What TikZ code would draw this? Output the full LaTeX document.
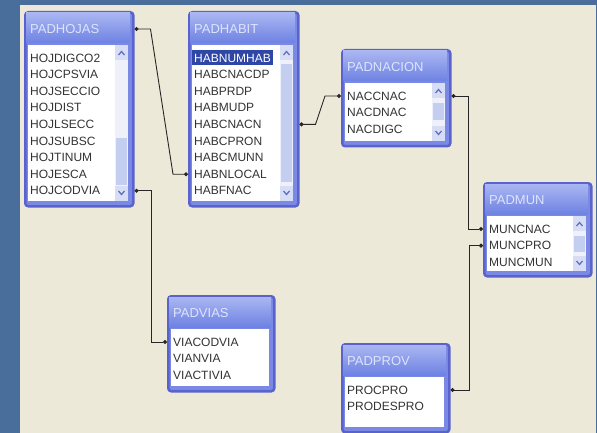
\documentclass[tikz,border=0pt]{standalone}
\usepackage{fontspec}
\setmainfont{Liberation Sans}
\usetikzlibrary{arrows.meta}
\definecolor{fondo}{HTML}{4A6E9C}
\definecolor{panel}{HTML}{ECE9D8}
\definecolor{marco}{HTML}{5A62CE}
\definecolor{marcofill}{HTML}{7A8AE4}
\definecolor{cabtop}{HTML}{AAB6F2}
\definecolor{cabbot}{HTML}{6E82E2}
\definecolor{titulo}{HTML}{DCE4FC}
\definecolor{pista}{HTML}{EEF0FA}
\definecolor{cursor}{HTML}{C4CEF0}
\definecolor{boton}{HTML}{D6DDF5}
\definecolor{flecha}{HTML}{5B6DC2}
\definecolor{selec}{HTML}{2E46A6}
\definecolor{linea}{HTML}{262626}

\begin{document}
\begin{tikzpicture}[x=1pt, y=-1pt, every node/.style={inner sep=0pt},
  tabla/.style={draw=marco, line width=2.5pt, fill=marcofill, rounded corners=3pt, anchor=north west},
  cab/.style={font=\fontsize{13}{15}\selectfont, text=titulo, anchor=west},
  fila/.style={font=\fontsize{12}{14}\selectfont, text=black!80, anchor=west, inner xsep=2pt, minimum height=15pt},
  fila habit-1/.style={fill=selec, text=white},
  rel/.style={draw=linea, line width=0.9pt, {Circle[length=4pt]}-{Circle[length=4pt]}}]
\useasboundingbox (0,0) rectangle (597,433);
%fondo
\fill[fondo] (0,0) rectangle (597,433);
\fill[panel] (20,5) rectangle (596,433);
%tablas
\foreach \n/\x/\y/\w/\h/\t/\l in {
  hojas/24/11/108/194/PADHOJAS/{HOJDIGCO2,HOJCPSVIA,HOJSECCIO,HOJDIST,HOJLSECC,HOJSUBSC,HOJTINUM,HOJESCA,HOJCODVIA},
  habit/188/11/109/194/PADHABIT/{HABNUMHAB,HABCNACDP,HABPRDP,HABMUDP,HABCNACN,HABCPRON,HABCMUNN,HABNLOCAL,HABFNAC},
  nacion/341/49/108/96/PADNACION/{NACCNAC,NACDNAC,NACDIGC},
  mun/483/182/107/93/PADMUN/{MUNCNAC,MUNCPRO,MUNCMUN},
  vias/167/295/106/95/PADVIAS/{VIACODVIA,VIANVIA,VIACTIVIA},
  prov/341/343/107/88/PADPROV/{PROCPRO,PRODESPRO}}{
  \node[tabla, minimum width=\w pt, minimum height=\h pt] (\n) at (\x,\y) {};
  \shade[top color=cabtop, bottom color=cabbot] (\x+2,\y+2) rectangle (\x+\w-2,\y+32);
  \fill[white] (\x+4,\y+34) rectangle (\x+\w-4,\y+\h-4);
  \node[cab] (\n-t) at (\x+6,\y+18) {\t};
  \foreach \r [count=\i] in \l
    \node[fila, fila \n-\i/.try] (\n-\i) at (\x+4,\y+30.4+16.6*\i) {\r};
}
%barras
\foreach \xs/\ya/\yb/\ta/\tb in {115/45/201/138/185, 280/45/201/64/182, 432/83/141/103/120, 573/216/271/236/252}{
  \fill[pista] (\xs,\ya) rectangle (\xs+13,\yb);
  \fill[cursor] (\xs+1,\ta) rectangle (\xs+12,\tb);
  \fill[boton] (\xs,\ya) rectangle (\xs+13,\ya+15);
  \fill[boton] (\xs,\yb-15) rectangle (\xs+13,\yb);
  \draw[flecha, line width=1.2pt] (\xs+3.5,\ya+10) -- (\xs+6.5,\ya+6.5) -- (\xs+9.5,\ya+10);
  \draw[flecha, line width=1.2pt] (\xs+3.5,\yb-10) -- (\xs+6.5,\yb-6.5) -- (\xs+9.5,\yb-10);
}
%relaciones
\coordinate (e1) at (habit.west |- habit-8);
\coordinate (e3) at (nacion.west |- nacion-1);
\draw[rel] (hojas.east |- hojas-t) -- ++(16,0) -- ([xshift=-15pt]e1) -- (e1);
\draw[rel] (hojas.east |- hojas-9) -- ++(17,0) |- (vias.west |- vias-1);
\draw[rel] (habit.east |- habit-5) -- ++(16,0) -- ([xshift=-16pt]e3) -- (e3);
\draw[rel] (nacion.east |- nacion-1) -- ++(17,0) |- (mun.west |- mun-1);
\draw[rel] (prov.east |- prov-1) -- ++(19,0) |- (mun.west |- mun-2);
\end{tikzpicture}
\end{document}
